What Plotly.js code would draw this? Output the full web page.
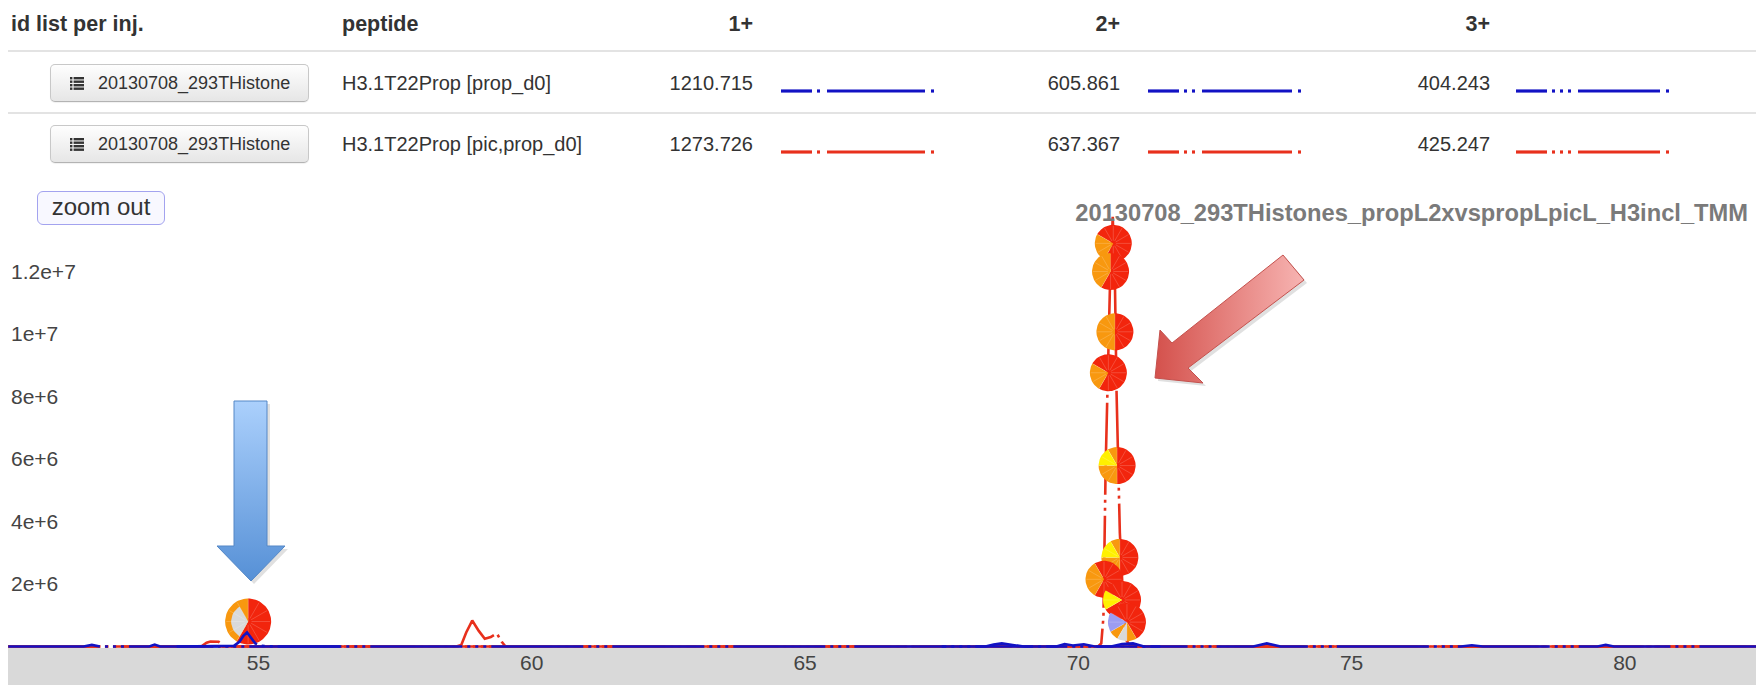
<!DOCTYPE html>
<html>
<head>
<meta charset="utf-8">
<script src="https://cdn.plot.ly/plotly-3.0.1.min.js"></script>
<style>
  html, body { margin: 0; padding: 0; background: #fff; }
  body { width: 1756px; height: 685px; position: relative; overflow: hidden;
         font-family: "Liberation Sans", Arial, Helvetica, sans-serif; color: #333; }
  #chart { position: absolute; left: 0; top: 0; width: 1756px; height: 685px; }
  #grid { position: absolute; left: 0; top: 0; width: 1756px; height: 240px; z-index: 2; }
  .t { position: absolute; white-space: nowrap; font-size: 20px; line-height: 24px; }
  .b { font-weight: bold; font-size: 21.5px; }
  .rule { position: absolute; left: 8px; right: 0; height: 2px; background: #e3e3e3; }
  .btn { position: absolute; left: 50px; width: 259px; height: 38px; box-sizing: border-box;
         border: 1px solid #c8c8c8; border-bottom-color: #b3b3b3; border-radius: 5px;
         background: linear-gradient(#fefefe, #e6e6e6); font-size: 18px; line-height: 36px; color: #333;
         box-shadow: 0 1px 1px rgba(0,0,0,0.06); }
  .btn svg { position: absolute; left: 19px; top: 11px; }
  .btn span { position: absolute; left: 47px; top: 0; white-space: nowrap; }
  .zoom { position: absolute; left: 37px; top: 191px; width: 128px; height: 34px; box-sizing: border-box;
          border: 1.5px solid #a3a3ef; border-radius: 6px; background: #f8f8ff;
          font-size: 24px; line-height: 30px; text-align: center; color: #333; }
  .sample { position: absolute; }
</style>
</head>
<body>
<div id="chart"></div>
<div id="grid"></div>
<script>
// ---------- peptide table ----------
const injections = ['20130708_293THistone', '20130708_293THistone'];
const peptides = ['H3.1T22Prop [prop_d0]', 'H3.1T22Prop [pic,prop_d0]'];
const charges = ['1+', '2+', '3+'];
const mzProp = [1210.715, 605.861, 404.243];
const mzPicProp = [1273.726, 637.367, 425.247];

// ---------- extracted ion chromatograms: retention time (min) / intensity ----------
// [pic,prop_d0]
const pic1Time = [50.42, 52.0, 54.0, 56.0, 58.0, 58.62, 58.71, 58.80, 58.91, 59.03, 59.14, 59.25, 59.36, 59.45, 59.52, 61.0, 64.0, 67.0, 70.0, 73.0, 76.0, 79.0, 82.4];
const pic1Int  = [0, 0, 0, 0, 0, 0, 0.05e6, 0.45e6, 0.83e6, 0.5e6, 0.25e6, 0.3e6, 0.42e6, 0.15e6, 0, 0, 0, 0, 0, 0, 0, 0, 0];
const pic2Time = [50.42, 55.0, 60.0, 65.0, 68.0, 70.0, 70.36, 70.42, 70.46, 70.50, 70.54, 70.58, 70.63, 70.67, 70.70, 70.73, 70.76, 70.82, 70.88, 70.95, 71.3, 74.0, 77.0, 82.4];
const pic2Int  = [0, 0, 0, 0, 0, 0, 0, 0.1e6, 0.95e6, 5.75e6, 8.75e6, 11.6e6, 13.75e6, 11.63e6, 8.11e6, 5.24e6, 3.63e6, 1.49e6, 0.2e6, 0.02e6, 0, 0, 0, 0];
const pic3Time = [50.42, 52.0, 53.6, 53.95, 54.05, 54.12, 54.27, 54.35, 54.6, 58.0, 63.0, 68.0, 73.0, 78.0, 82.4];
const pic3Int  = [0, 0, 0, 0, 0.12e6, 0.16e6, 0.15e6, 0, 0, 0, 0, 0, 0, 0, 0];
// [prop_d0]
const prop1Time = [67.5, 68.3, 68.45, 68.6, 68.8, 69.0, 69.6, 69.75, 69.9, 70.1, 70.3, 71.5];
const prop1Int  = [0, 0, 0.06e6, 0.1e6, 0.05e6, 0, 0, 0.08e6, 0.03e6, 0.07e6, 0, 0];
const prop2Time = [53.5, 54.4, 54.55, 54.65, 54.72, 54.79, 54.86, 54.94, 55.05, 55.3, 56.5];
const prop2Int  = [0, 0, 0.02e6, 0.15e6, 0.33e6, 0.45e6, 0.3e6, 0.1e6, 0.02e6, 0, 0];
const prop3Time = [50.42, 51.8, 51.95, 52.1, 53.0, 53.1, 53.2, 56.0, 60.0, 63.0, 66.0, 70.6, 70.8, 71.0, 71.2, 73.2, 73.45, 73.7, 77.0, 77.2, 77.4, 79.5, 79.65, 79.8, 82.4];
const prop3Int  = [0, 0, 0.05e6, 0, 0, 0.06e6, 0, 0, 0, 0, 0, 0, 0.08e6, 0.1e6, 0, 0, 0.1e6, 0, 0, 0.04e6, 0, 0, 0.05e6, 0, 0];

// ---------- identification glyphs: time, intensity, slice classes (clockwise from 12 o'clock) ----------
const idTime = [54.81, 70.64, 70.59, 70.67, 70.55, 70.71, 70.76, 70.47, 70.80, 70.89];
const idInt  = [0.80e6, 12.9e6, 12.0e6, 10.07e6, 8.76e6, 5.79e6, 2.85e6, 2.15e6, 1.49e6, 0.78e6];
const idSlices = ['RRRRRRRggggO', 'RRRRRRROOORR', 'RRRRRRROOOOO', 'RRRRRROOOOOO', 'RRRRRRROOORR',
                  'RRRRRROOOYYO', 'RRRRRROOOYYO', 'RRRRRRROOOOR', 'RRRRRRRRYYRR', 'RRRRROGOLLRR'];

const yTickValues = [2e6, 4e6, 6e6, 8e6, 10e6, 12e6];
const chartTitle = '20130708_293THistones_propL2xvspropLpicL_H3incl_TMM';

// ---------- styles ----------
const FONT = '"Liberation Sans", Arial, Helvetica, sans-serif';
const BLUE = '#1212c4';
const RED = '#e8301c';
const SLICE_COLORS = { R: '#f2250d', O: '#f8980f', Y: '#fff000', L: '#9c9cf2', G: '#d9d9d9' };
const W = 1756, H = 685;
const PLOT = { left: 8, right: 1756, top: 200, bottom: 648 };
const X_RANGE = [50.416, 82.40];
const Y_RANGE = [-48000, 14288000];
const KX = (X_RANGE[1] - X_RANGE[0]) / (PLOT.right - PLOT.left);   // time per pixel
const KY = (Y_RANGE[1] - Y_RANGE[0]) / (PLOT.bottom - PLOT.top);   // intensity per pixel
const GLYPH_RADIUS_PX = [23, 18.5, 18.5, 18.5, 18.5, 18.5, 18.5, 18.5, 19, 19];

// ---------- table ----------
const grid = document.getElementById('grid');
function put(html, cls, css) {
  const d = document.createElement('div');
  d.className = cls;
  d.innerHTML = html;
  Object.assign(d.style, css);
  grid.appendChild(d);
  return d;
}
const colRight = [753, 1120, 1490];
const sampleLeft = [781, 1148, 1516];
const headerY = 24, rowY = [83, 144];

put('id list per inj.', 't b', { left: '11px', top: (headerY - 12) + 'px' });
put('peptide', 't b', { left: '342px', top: (headerY - 12) + 'px' });
charges.forEach((c, i) => put(c, 't b', { right: (W - colRight[i]) + 'px', top: (headerY - 12) + 'px' }));
put('', 'rule', { top: '50px' });
put('', 'rule', { top: '112px' });

const listIcon = '<svg width="14" height="15" viewBox="0 0 14 15">' +
  [1, 4.5, 8, 11.5].map(y => '<rect x="0" y="' + y + '" width="2.4" height="2.4" fill="#333"/>' +
    '<rect x="3.6" y="' + y + '" width="10.4" height="2.4" fill="#333"/>').join('') + '</svg>';

function sampleSvg(nDots, color) {
  const w = 155, segs = [[0, 31]];
  let x = 31;
  for (let i = 0; i < nDots; i++) { x += 5; segs.push([x, x + 3]); x += 3; }
  x += 7;
  const longEnd = w - 11;
  segs.push([x, longEnd]);
  segs.push([longEnd + 6, longEnd + 9]);
  return '<svg width="' + w + '" height="6">' + segs.map(s =>
    '<line x1="' + s[0] + '" y1="3" x2="' + s[1] + '" y2="3" stroke="' + color + '" stroke-width="3.2"/>').join('') + '</svg>';
}

[mzProp, mzPicProp].forEach((mz, r) => {
  const color = r === 0 ? BLUE : RED;
  put(listIcon + '<span>' + injections[r] + '</span>', 'btn', { top: (rowY[r] - 19) + 'px' });
  put(peptides[r], 't', { left: '342px', top: (rowY[r] - 12) + 'px' });
  mz.forEach((m, i) => {
    put(m.toFixed(3), 't', { right: (W - colRight[i]) + 'px', top: (rowY[r] - 12) + 'px' });
    put(sampleSvg(i + 1, color), 'sample', { left: sampleLeft[i] + 'px', top: (rowY[r] - 3) + 'px' });
  });
});
put('zoom out', 'zoom', {});

// ---------- chart ----------
function dashFor(n) {
  const p = ['92px'];
  for (let i = 0; i < n; i++) p.push('5px', '3px');
  p.push('5px');
  return p.join(',');
}
function xic(t, v, color, charge) {
  return { type: 'scatter', mode: 'lines', x: t, y: v, xaxis: 'x', yaxis: 'y',
           line: { color: color, width: 2.6, dash: dashFor(charge) }, hoverinfo: 'skip' };
}

function addSector(store, key, cx, cy, r, a0, a1) {
  if (!store[key]) store[key] = { x: [], y: [] };
  const s = store[key];
  const n = Math.max(3, Math.ceil((a1 - a0) * 90));
  s.x.push(cx); s.y.push(cy);
  for (let i = 0; i <= n; i++) {
    const a = 2 * Math.PI * (a0 + (a1 - a0) * i / n);
    s.x.push(cx + r * Math.sin(a) * KX);
    s.y.push(cy + r * Math.cos(a) * KY);
  }
  s.x.push(cx, null); s.y.push(cy, null);
}

function glyphTraces(cx, cy, code, r) {
  const n = code.length, outer = {}, inner = {}, seps = { x: [], y: [] };
  for (let i = 0; i < n; i++) {
    const c = code[i];
    addSector(outer, c === 'g' ? 'O' : c, cx, cy, r, i / n, (i + 1) / n);
    if (c === 'g') addSector(inner, 'G', cx, cy, r * 0.74, i / n, (i + 1) / n);
    const a = 2 * Math.PI * i / n;
    seps.x.push(cx + r * 0.15 * Math.sin(a) * KX, cx + r * 0.95 * Math.sin(a) * KX, null);
    seps.y.push(cy + r * 0.15 * Math.cos(a) * KY, cy + r * 0.95 * Math.cos(a) * KY, null);
  }
  const out = [];
  [outer, inner].forEach(group => Object.keys(group).forEach(k => out.push({
    type: 'scatter', mode: 'lines', x: group[k].x, y: group[k].y, xaxis: 'x', yaxis: 'y',
    fill: 'toself', fillcolor: SLICE_COLORS[k], line: { width: 0, color: SLICE_COLORS[k] }, hoverinfo: 'skip'
  })));
  out.push({ type: 'scatter', mode: 'lines', x: seps.x, y: seps.y, xaxis: 'x', yaxis: 'y',
             line: { color: 'rgba(255,255,255,0.3)', width: 0.6 }, hoverinfo: 'skip' });
  return out;
}

// pointer arrows, drawn in window pixel space
function arrow(px, py, colorscale, type, start, stop, edge) {
  return [
    { type: 'scatter', mode: 'lines', x: px.map(v => v + 3), y: py.map(v => v + 3), xaxis: 'x2', yaxis: 'y2',
      fill: 'toself', fillcolor: 'rgba(0,0,0,0.12)', line: { width: 0 }, hoverinfo: 'skip' },
    { type: 'scatter', mode: 'lines', x: px, y: py, xaxis: 'x2', yaxis: 'y2', fill: 'toself',
      fillgradient: { type: type, start: start, stop: stop, colorscale: colorscale },
      line: { color: edge, width: 1 }, hoverinfo: 'skip' }
  ];
}

const traces = [
  xic(pic3Time, pic3Int, RED, 3),
  xic(pic1Time, pic1Int, RED, 1),
  xic(pic2Time, pic2Int, RED, 2)
];
idTime.forEach((t, i) => traces.push(...glyphTraces(t, idInt[i], idSlices[i], GLYPH_RADIUS_PX[i])));
traces.push(
  xic(prop2Time, prop2Int, BLUE, 2),
  xic(prop1Time, prop1Int, BLUE, 1),
  xic(prop3Time, prop3Int, BLUE, 3)
);
traces.push(...arrow([234, 267, 267, 285, 251, 217, 234, 234], [401, 401, 546, 546, 581, 546, 546, 401],
  [[0, '#abd0fc'], [1, '#5690d6']], 'vertical', 401, 581, '#5487c6'));
traces.push(...arrow([1155, 1160, 1172, 1283, 1304, 1188, 1203, 1155], [378, 330, 343, 255, 280, 368, 383, 378],
  [[0, '#d4514c'], [1, '#f7b4b2']], 'horizontal', 1155, 1304, '#c4514d'));

const axisFont = { family: FONT, size: 21, color: '#444' };
const layout = {
  width: W, height: H,
  margin: { l: 0, r: 0, t: 0, b: 0, pad: 0 },
  paper_bgcolor: '#ffffff', plot_bgcolor: 'rgba(0,0,0,0)',
  showlegend: false,
  font: { family: FONT, color: '#444' },
  title: {
    text: '<b>' + chartTitle + '</b>',
    font: { family: FONT, size: 23.7, color: '#7a7a7a' },
    x: 1748 / W, xanchor: 'right', xref: 'paper',
    y: 1 - 213 / H, yanchor: 'middle', yref: 'paper'
  },
  xaxis: {
    domain: [PLOT.left / W, 1], range: X_RANGE, anchor: 'y',
    tick0: 0, dtick: 5, ticks: '', showgrid: false, zeroline: false, showline: false,
    tickfont: axisFont, fixedrange: true
  },
  yaxis: {
    domain: [(H - PLOT.bottom) / H, (H - PLOT.top) / H], range: Y_RANGE, anchor: 'x',
    tickvals: yTickValues, tickformat: '~e', ticklabelposition: 'inside', ticks: '',
    showgrid: false, zeroline: false, showline: false, tickfont: axisFont, fixedrange: true
  },
  xaxis2: { domain: [0, 1], range: [0, W], anchor: 'y2', visible: false, fixedrange: true },
  yaxis2: { domain: [0, 1], range: [H, 0], anchor: 'x2', visible: false, fixedrange: true },
  shapes: [{
    type: 'rect', xref: 'paper', yref: 'paper', layer: 'below',
    x0: PLOT.left / W, x1: 1, y0: 0, y1: (H - PLOT.bottom) / H,
    fillcolor: '#d9d9d9', line: { width: 0 }
  }]
};

Plotly.newPlot('chart', traces, layout, { staticPlot: true, displayModeBar: false });
</script>
</body>
</html>
